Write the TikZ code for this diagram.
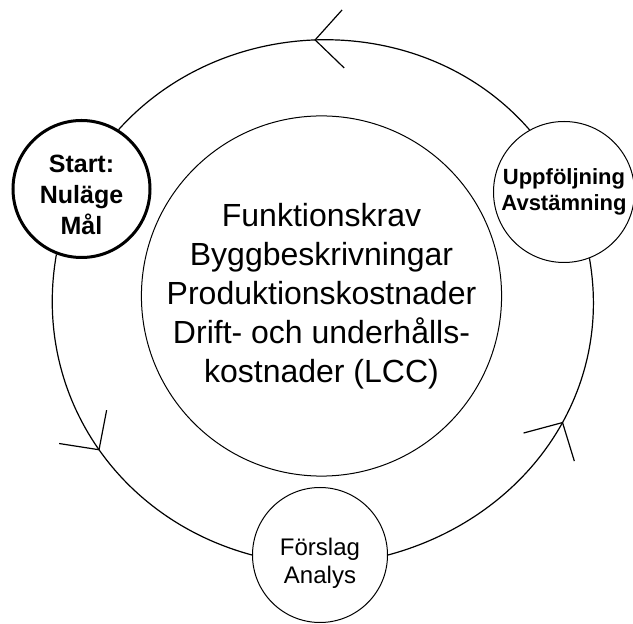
\documentclass[tikz,border=0pt]{standalone}
\usepackage{fontspec}
\setmainfont{Liberation Sans}
\usetikzlibrary{
    decorations.markings
}
\tikzset {
    stage/.style = {circle, draw, line width = 1pt, inner sep = 0pt, align = center},
    start stage/.style = {stage, line width = 3pt},
    caption/.style = {align = center, inner sep = 0pt},
    ring/.style = {line width = 1.2pt},
    open arrow/.style = {
        postaction = {
            decorate,
            decoration = {
                markings,
                mark = at position #1 with {
                    \draw [line width = 1.2pt] (-28pt, 29pt) -- (0, 0) -- (-28pt, -29pt);
                }
            }
        }
    }
}

\begin{document}
\begin{tikzpicture}[x = 1pt, y = 1pt]
            \useasboundingbox (0, 0) rectangle (633, 624);
            \node (core) [stage, minimum size = 342pt, font = \fontsize{32}{39}\selectfont] at (321.5, 328)
                {Funktionskrav\\Byggbeskrivningar\\Produktionskostnader\\Drift- och underhålls-\\kostnader (LCC)};
            \node (start) [start stage, minimum size = 137pt] at (81.5, 435) {};
            \node (start text) [caption, font = \bfseries\fontsize{25}{31}\selectfont] at ([yshift = -6pt] start.center)
                {Start:\\Nuläge\\Mål};
            \node (follow) [stage, minimum size = 141pt, font = \bfseries\fontsize{22}{26}\selectfont] at (564, 432)
                {Uppföljning\\Avstämning};
            \node (proposal) [stage, minimum size = 135pt] at (320, 69) {};
            \node (proposal text) [caption, font = \fontsize{24}{28}\selectfont] at ([yshift = -8pt] proposal.center)
                {Förslag\\Analys};
            \draw [ring, open arrow = .52] (follow.119) to[out = 131, in = 48] (start.58);
            \draw [ring, open arrow = .52] (start.-111) to[out = 260, in = 165] (proposal.180);
            \draw [ring, open arrow = .57] (proposal.0) to[out = 15, in = -80] (follow.-69);
        \end{tikzpicture}
\end{document}
